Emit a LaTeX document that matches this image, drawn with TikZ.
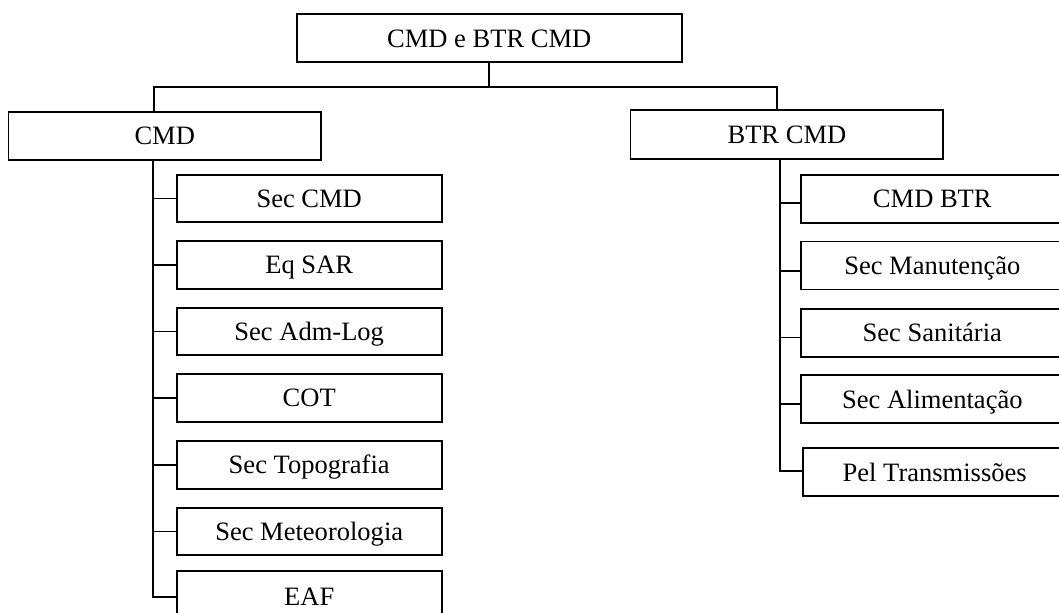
\documentclass[tikz,border=0pt]{standalone}
\usepackage{fontspec}
\setmainfont{Liberation Serif}
\usetikzlibrary{calc}

\tikzset{
  orgbox/.style={draw, line width=1.3pt, inner sep=0pt, text height=16pt, text depth=2.8pt,
    font=\fontsize{19.9}{22}\selectfont},
  leftbox/.style={orgbox, minimum width=198.75pt, minimum height=35.6pt},
  rightbox/.style={orgbox, minimum width=197.1pt, minimum height=36pt},
  link/.style={line width=1.3pt},
}

\begin{document}
\begin{tikzpicture}[x=0.75pt, y=-0.75pt]
    \useasboundingbox (0,0) rectangle (1059,613);

    \node[orgbox, minimum width=288.75pt, minimum height=36pt] (top) at (489.2,38.3) {CMD e BTR CMD};
    \node[orgbox, minimum width=234.4pt, minimum height=36pt] (cmd) at (164.75,136) {CMD};
    \node[orgbox, minimum width=234.6pt, minimum height=36.4pt] (btr) at (786.9,134.5) {BTR CMD};

    % ramo CMD
    \foreach \n/\y/\t in {seccmd/198.5/Sec CMD, eqsar/265/Eq SAR, admlog/331.5/Sec Adm-Log,
      cot/398/COT, topo/465/Sec Topografia, meteo/531.5/Sec Meteorologia}
      \node[leftbox] (\n) at (309.2,\y) {\t};
    \node[leftbox, minimum height=39pt] (eaf) at (309.2,596.7) {EAF};

    % ramo BTR CMD
    \foreach \n/\y/\t in {cmdbtr/199/CMD BTR, manut/265.5/Sec Manutenção,
      sanit/332.7/Sec Sanitária, alim/399.3/Sec Alimentação}
      \node[rightbox] (\n) at (932.3,\y) {\t};
    \node[rightbox] (pel) at (934.7,472.3) {Pel Transmissões};

    \coordinate (bus) at (top.south |- 0,87.3);
    \draw[link] (top.south) -- (bus);
    \draw[link] ([xshift=-8.2pt]cmd.north) |- (bus) -| ([xshift=-7.2pt]btr.north);

    \coordinate (ltrunk) at ([xshift=-8.6pt]cmd.south);
    \draw[link] (ltrunk) |- (eaf.west);
    \foreach \n in {seccmd, eqsar, admlog, cot, topo, meteo}
      \draw[link] (\n.west) -- (\n.west -| ltrunk);

    \coordinate (rtrunk) at ([xshift=-5.2pt]btr.south);
    \draw[link] (rtrunk) |- ([yshift=1.2pt]pel.west);
    \foreach \n/\d in {cmdbtr/-3.2pt, manut/-3.9pt, sanit/-3.5pt, alim/-3.5pt}
      \draw[link] ([yshift=\d]\n.west) -- ++(-15.7pt,0);

\end{tikzpicture}
\end{document}
